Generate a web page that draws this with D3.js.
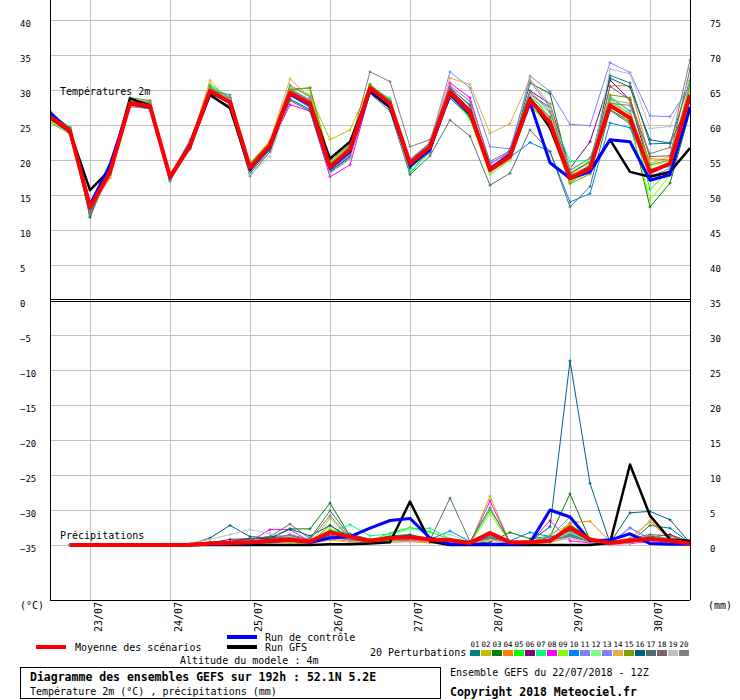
<!DOCTYPE html>
<html>
<head>
<meta charset="utf-8">
<script src="https://cdn.jsdelivr.net/npm/d3@7"></script>
<style>
body { margin: 0; background: #fff; }
svg { display: block; font-family: "DejaVu Sans Mono", monospace; }
</style>
</head>
<body>
<div id="chart"></div>
<script>
// echeances (heures depuis le 22/07 12Z)
const tempHours = d3.range(0, 193, 6);
const rainHours = d3.range(6, 193, 6);
const dayLabels = ["23/07", "24/07", "25/07", "26/07", "27/07", "28/07", "29/07", "30/07"];
const leftTicks = d3.range(-35, 41, 5);
const rightTicks = d3.range(0, 76, 5);

// temperatures 2m
const meanTemp = [26.2, 24.2, 13.2, 18.3, 28.1, 27.7, 17.6, 22.0, 29.9, 28.3, 18.9, 22.1, 29.6, 28.1, 19.0, 21.5, 30.3, 28.1, 19.5, 21.9, 29.7, 26.8, 18.6, 20.5, 28.6, 25.3, 17.4, 18.8, 27.8, 26.0, 18.3, 19.5, 29.3];
const controlTemp = [26.8, 24.0, 13.6, 19.3, 28.0, 27.6, 17.5, 22.2, 29.8, 28.2, 18.7, 21.9, 29.4, 27.9, 18.8, 21.2, 30.0, 27.8, 19.2, 21.6, 29.4, 26.6, 18.8, 20.7, 28.2, 19.6, 17.4, 18.3, 22.9, 22.6, 17.1, 17.9, 27.6];
const gfsTemp = [26.0, 24.0, 15.7, 18.6, 28.8, 27.8, 17.5, 21.9, 29.3, 27.4, 18.6, 22.0, 29.5, 28.0, 20.2, 22.6, 29.8, 27.5, 19.5, 21.5, 29.5, 27.0, 18.5, 20.8, 28.8, 24.6, 17.5, 18.5, 22.9, 18.3, 17.6, 18.3, 21.7];

const p01 = [26.5, 24.5, 12.5, 18.6, 28.3, 27.9, 17.3, 22.3, 30.1, 28.6, 18.6, 21.8, 30.1, 30.3, 18.5, 21.0, 30.8, 27.6, 18.8, 21.6, 30.2, 27.9, 18.2, 21.6, 29.4, 27.5, 16.8, 18.5, 32.1, 31.0, 22.3, 22.4, 31.4];
const p02 = [26.0, 23.8, 13.0, 18.0, 28.4, 28.0, 17.8, 22.2, 30.5, 28.5, 19.2, 22.4, 30.4, 29.2, 22.9, 24.3, 30.6, 28.4, 19.9, 22.3, 30.0, 27.0, 19.0, 21.0, 29.5, 26.0, 18.0, 19.6, 28.6, 28.1, 19.5, 20.5, 30.8];
const p03 = [26.8, 24.6, 11.8, 18.9, 28.6, 28.0, 17.2, 21.8, 30.3, 28.8, 18.5, 22.5, 30.1, 28.6, 19.3, 21.9, 30.0, 28.3, 19.2, 22.1, 29.4, 26.4, 18.3, 20.2, 31.0, 29.5, 18.1, 19.8, 27.2, 25.5, 13.3, 16.7, 26.9];
const p04 = [26.1, 24.0, 13.6, 17.5, 27.8, 27.5, 17.9, 22.3, 29.7, 28.0, 19.1, 22.0, 29.9, 27.6, 19.4, 21.8, 30.1, 27.9, 19.8, 21.4, 29.6, 26.5, 18.8, 20.7, 28.2, 24.9, 17.0, 18.6, 30.6, 30.6, 20.2, 20.0, 30.2];
const p05 = [25.7, 24.4, 12.9, 18.4, 28.3, 28.2, 17.5, 21.9, 30.8, 28.9, 19.0, 22.5, 29.8, 28.4, 19.6, 21.3, 30.7, 28.6, 18.3, 21.5, 29.1, 26.1, 18.9, 20.1, 27.8, 24.8, 17.6, 18.9, 28.6, 26.6, 15.8, 18.6, 29.8];
const p06 = [26.4, 24.1, 13.3, 18.2, 27.9, 27.6, 17.7, 22.0, 29.5, 28.1, 18.7, 22.2, 29.7, 28.2, 19.1, 21.4, 30.2, 28.0, 19.6, 22.0, 30.1, 27.3, 18.6, 20.6, 29.9, 28.0, 18.8, 22.6, 31.4, 28.6, 18.6, 19.2, 28.9];
const p07 = [26.2, 24.7, 12.7, 18.7, 28.5, 28.1, 17.4, 22.4, 30.5, 29.0, 19.4, 22.8, 29.3, 27.8, 18.7, 21.1, 30.5, 28.8, 18.1, 21.2, 29.2, 26.0, 18.2, 20.8, 28.9, 26.8, 19.8, 20.0, 29.1, 27.0, 18.8, 19.0, 30.6];
const p08 = [26.0, 23.9, 13.4, 17.8, 27.6, 27.4, 17.8, 21.7, 29.6, 28.2, 18.8, 21.9, 27.9, 27.0, 17.6, 19.3, 29.6, 27.6, 19.9, 22.2, 31.0, 28.9, 19.4, 21.2, 28.5, 25.4, 17.1, 18.9, 27.5, 26.1, 18.0, 19.4, 29.0];
const p09 = [25.6, 23.6, 13.1, 18.1, 28.2, 27.9, 17.1, 21.6, 30.0, 28.4, 19.6, 22.7, 30.3, 29.4, 19.8, 22.0, 29.9, 27.7, 19.1, 22.3, 29.0, 25.8, 17.9, 19.9, 28.0, 24.6, 16.9, 18.3, 28.9, 25.0, 14.3, 17.8, 29.5];
const p10 = [27.0, 24.3, 13.5, 19.4, 28.0, 27.8, 17.6, 22.1, 29.8, 28.3, 19.2, 21.6, 29.2, 27.5, 18.4, 20.6, 29.7, 27.4, 19.0, 21.7, 28.8, 26.3, 18.7, 20.4, 22.5, 21.2, 14.0, 15.2, 25.3, 24.6, 18.4, 19.3, 28.7];
const p11 = [26.6, 24.2, 13.8, 18.5, 28.1, 27.6, 17.4, 21.5, 29.9, 28.5, 19.1, 21.7, 29.4, 27.9, 18.6, 20.9, 29.8, 27.5, 19.4, 21.0, 29.9, 27.2, 19.6, 20.9, 32.0, 29.8, 25.1, 24.9, 33.9, 32.5, 26.3, 26.2, 30.6];
const p12 = [26.3, 24.5, 12.8, 18.8, 28.6, 28.4, 17.5, 22.3, 30.2, 28.7, 18.9, 22.4, 29.9, 28.4, 19.5, 21.6, 30.1, 27.8, 19.7, 21.9, 29.5, 26.6, 18.4, 20.3, 28.3, 26.3, 18.9, 19.9, 28.0, 26.9, 19.1, 19.9, 29.7];
const p13 = [26.9, 23.9, 14.0, 19.1, 27.9, 27.6, 17.8, 22.5, 30.4, 28.8, 18.6, 21.8, 29.9, 28.6, 18.3, 20.7, 29.9, 28.4, 20.1, 22.5, 32.6, 30.3, 21.9, 21.6, 31.3, 27.5, 17.7, 18.1, 28.9, 27.0, 17.6, 18.8, 28.5];
const p14 = [26.2, 24.0, 13.0, 17.4, 27.7, 27.3, 17.9, 22.3, 31.4, 28.3, 19.4, 22.8, 31.6, 28.9, 18.9, 21.9, 30.4, 28.2, 19.1, 22.6, 31.7, 30.8, 23.8, 25.2, 31.6, 27.9, 17.9, 19.1, 28.3, 26.5, 17.1, 18.5, 28.7];
const p15 = [25.4, 23.7, 13.1, 17.9, 28.9, 28.5, 17.2, 21.8, 30.6, 28.0, 19.5, 22.5, 30.0, 30.3, 19.9, 22.2, 30.8, 28.5, 19.3, 21.8, 29.6, 27.0, 18.9, 20.5, 28.7, 24.4, 16.6, 18.0, 29.3, 28.9, 19.3, 20.0, 30.7];
const p16 = [26.3, 24.1, 12.3, 18.2, 27.9, 27.3, 17.5, 21.9, 29.3, 27.5, 18.1, 21.5, 28.7, 27.2, 18.3, 20.5, 29.6, 27.4, 18.9, 21.2, 29.4, 26.2, 18.5, 21.0, 29.0, 25.5, 17.5, 19.3, 31.7, 30.4, 22.9, 22.4, 28.3];
const p17 = [26.7, 24.6, 12.0, 18.3, 28.3, 28.0, 17.0, 21.7, 29.2, 27.7, 17.7, 21.2, 28.5, 27.0, 18.1, 20.3, 29.5, 27.0, 17.9, 20.6, 25.7, 23.4, 16.4, 18.1, 24.3, 21.2, 13.3, 16.2, 27.1, 25.2, 17.9, 17.9, 27.2];
const p18 = [26.0, 24.3, 12.6, 18.6, 28.2, 28.1, 17.3, 22.2, 29.6, 28.1, 19.3, 22.3, 29.3, 27.7, 19.2, 21.2, 30.4, 28.3, 20.0, 22.4, 30.4, 27.7, 19.0, 20.6, 28.8, 26.1, 17.9, 18.5, 30.5, 28.6, 20.5, 20.6, 33.0];
const p19 = [25.9, 23.5, 13.7, 18.5, 28.0, 27.9, 18.0, 22.7, 29.8, 28.6, 17.9, 20.5, 29.1, 28.0, 18.1, 20.1, 30.2, 27.9, 19.7, 21.7, 29.3, 26.9, 18.2, 20.0, 29.3, 27.3, 17.3, 18.4, 33.0, 32.3, 24.5, 24.8, 31.8];
const p20 = [26.5, 24.0, 12.4, 18.0, 28.4, 28.4, 17.7, 22.9, 30.0, 29.3, 18.6, 22.6, 30.7, 29.0, 19.5, 22.1, 32.6, 31.2, 21.9, 22.9, 30.6, 28.4, 19.8, 21.3, 29.8, 26.9, 18.5, 20.3, 28.1, 27.8, 20.9, 21.8, 34.3];

// precipitations (mm / 6h)
const meanRain = [0, 0, 0, 0, 0, 0, 0.05, 0.2, 0.3, 0.4, 0.6, 0.8, 0.5, 1.8, 1.2, 0.6, 1.0, 1.1, 0.8, 0.7, 0.3, 1.7, 0.4, 0.4, 0.6, 2.5, 0.8, 0.3, 0.6, 0.9, 0.6, 0.2];
const controlRain = [0, 0, 0, 0, 0, 0, 0, 0.1, 0.2, 0.3, 0.5, 0.7, 0.4, 1.0, 1.2, 2.4, 3.5, 3.8, 1.0, 0.1, 0.1, 0.1, 0.1, 0.3, 5.0, 4.0, 0.6, 0.7, 1.6, 0.2, 0.1, 0.1];
const gfsRain = [0, 0, 0, 0, 0, 0, 0, 0, 0, 0, 0, 0, 0, 0.1, 0.1, 0.2, 0.4, 6.2, 0.5, 0, 0, 0, 0, 0, 0, 0, 0, 0.3, 11.5, 4.2, 0.8, 0.6];

const r01 = [0, 0, 0, 0, 0, 0, 0.1, 0.3, 0.5, 0.9, 1.2, 1.4, 0.6, 2.1, 1.6, 0.8, 1.3, 1.5, 0.9, 0.6, 0.4, 1.2, 0.3, 0.5, 1.1, 2.0, 0.6, 0.2, 0.4, 2.8, 2.4, 0.3];
const r02 = [0, 0, 0, 0, 0, 0, 0.1, 0.2, 0.3, 0.4, 0.6, 0.5, 0.3, 3.8, 1.0, 0.5, 0.9, 0.8, 0.6, 0.5, 0.2, 7.0, 0.3, 0.2, 0.4, 1.0, 0.4, 0.2, 0.3, 0.5, 0.4, 0.1];
const r03 = [0, 0, 0, 0, 0, 0, 0.2, 0.4, 0.5, 0.9, 0.9, 2.3, 2.3, 6.0, 1.3, 0.8, 1.0, 1.2, 0.6, 0.4, 0.3, 0.4, 1.8, 0.9, 1.2, 7.3, 0.7, 0.2, 0.5, 1.3, 0.9, 0.3];
const r04 = [0, 0, 0, 0, 0, 0, 0, 0.1, 0.1, 0.2, 0.3, 0.4, 0.2, 0.9, 0.5, 0.3, 0.4, 0.5, 0.3, 0.3, 0.1, 0.8, 0.2, 0.3, 0.5, 3.2, 3.4, 0.5, 1.0, 3.3, 0.8, 0.2];
const r05 = [0, 0, 0, 0, 0, 0, 0, 0.1, 0.2, 0.3, 0.5, 0.6, 0.4, 1.5, 1.1, 0.6, 1.7, 2.5, 1.9, 0.8, 0.3, 5.0, 0.4, 0.3, 0.6, 1.5, 0.5, 0.2, 0.4, 0.8, 0.5, 0.2];
const r06 = [0, 0, 0, 0, 0, 0, 0.1, 0.3, 0.8, 0.9, 1.0, 1.2, 0.7, 1.6, 1.2, 0.6, 0.9, 1.0, 0.7, 0.5, 0.3, 1.0, 0.4, 0.4, 0.8, 1.2, 0.5, 0.2, 0.6, 1.1, 1.5, 0.4];
const r07 = [0, 0, 0, 0, 0, 0, 0, 0.1, 0.3, 0.5, 0.8, 1.0, 0.8, 1.8, 2.9, 1.3, 1.6, 2.3, 2.4, 0.9, 0.3, 1.4, 0.3, 0.4, 0.9, 1.6, 0.8, 0.3, 0.5, 1.4, 0.8, 0.2];
const r08 = [0, 0, 0, 0, 0, 0, 0.1, 0.2, 0.3, 0.5, 2.2, 2.2, 0.5, 1.4, 0.9, 0.5, 0.8, 0.6, 0.5, 0.3, 0.2, 6.3, 0.3, 0.3, 3.5, 0.6, 0.3, 0.1, 0.2, 0.5, 0.3, 0.1];
const r09 = [0, 0, 0, 0, 0, 0, 0, 0.1, 0.2, 0.4, 0.5, 0.6, 0.4, 2.4, 0.9, 0.5, 1.2, 1.0, 0.8, 0.6, 0.2, 4.5, 0.3, 0.4, 1.5, 3.0, 1.0, 0.3, 0.5, 1.0, 0.5, 0.1];
const r10 = [0, 0, 0, 0, 0, 0, 0.1, 0.2, 0.4, 0.6, 0.8, 1.0, 0.5, 1.3, 0.8, 0.6, 1.0, 1.2, 0.8, 2.0, 0.5, 1.1, 0.6, 1.8, 1.2, 1.6, 0.4, 0.2, 0.4, 0.6, 0.3, 0.1];
const r11 = [0, 0, 0, 0, 0, 0, 0, 0.1, 0.2, 0.4, 0.6, 0.7, 0.5, 1.2, 0.8, 0.4, 0.7, 0.9, 0.6, 0.4, 0.2, 1.0, 0.3, 0.3, 1.2, 4.0, 0.8, 0.2, 2.4, 0.9, 0.5, 0.1];
const r12 = [0, 0, 0, 0, 0, 0, 0, 0.1, 0.3, 0.5, 0.7, 0.9, 0.6, 1.6, 1.3, 0.8, 1.4, 2.3, 1.7, 1.5, 0.4, 1.6, 0.5, 0.4, 0.7, 1.8, 0.6, 0.3, 0.6, 1.0, 0.6, 0.2];
const r13 = [0, 0, 0, 0, 0, 0, 0.1, 0.2, 0.3, 0.4, 0.5, 0.6, 0.4, 1.1, 0.7, 0.4, 0.6, 0.7, 0.5, 0.4, 0.2, 0.9, 0.3, 0.3, 0.7, 1.1, 0.4, 0.2, 2.5, 0.8, 0.4, 0.1];
const r14 = [0, 0, 0, 0, 0, 0, 0, 0.1, 0.1, 0.2, 0.3, 0.3, 0.2, 0.7, 0.4, 0.3, 0.4, 0.5, 0.4, 0.3, 0.1, 0.7, 0.2, 0.2, 0.4, 1.0, 0.4, 0.2, 0.6, 3.5, 1.0, 0.2];
const r15 = [0, 0, 0, 0, 0, 0, 0, 0.1, 0.2, 0.3, 0.4, 0.5, 0.3, 2.8, 0.9, 0.4, 0.7, 0.8, 0.6, 0.5, 0.2, 1.5, 0.3, 0.3, 0.6, 3.0, 0.6, 0.2, 0.4, 0.7, 0.4, 0.1];
const r16 = [0, 0, 0, 0, 0, 0, 0.1, 1.0, 2.8, 1.2, 1.0, 2.3, 1.3, 2.8, 1.1, 0.7, 1.2, 1.4, 0.7, 0.6, 0.3, 1.0, 0.4, 0.5, 2.6, 26.3, 8.8, 0.3, 4.6, 4.8, 3.6, 0.3];
const r17 = [0, 0, 0, 0, 0, 0, 0, 0.2, 0.4, 0.8, 1.2, 3.0, 0.9, 4.9, 1.2, 0.6, 1.0, 1.1, 0.7, 6.7, 0.5, 5.3, 0.4, 0.4, 0.8, 2.0, 0.6, 0.3, 0.5, 0.9, 0.6, 0.2];
const r18 = [0, 0, 0, 0, 0, 0, 0, 0.1, 0.3, 0.4, 0.7, 0.8, 0.5, 1.2, 0.8, 0.4, 0.8, 0.9, 0.6, 0.5, 0.2, 0.9, 0.3, 0.3, 0.6, 1.4, 0.5, 0.3, 0.9, 1.5, 1.3, 0.4];
const r19 = [0, 0, 0, 0, 0, 0, 0.3, 0.8, 1.5, 2.2, 1.6, 1.2, 0.6, 1.9, 1.0, 0.5, 0.8, 0.9, 0.5, 0.4, 0.2, 0.8, 0.3, 0.2, 0.6, 1.0, 0.4, 0.1, 0.3, 0.6, 0.4, 0.1];
const r20 = [0, 0, 0, 0, 0, 0, 0, 0.1, 0.3, 0.5, 0.8, 1.5, 0.8, 4.2, 1.0, 0.5, 0.9, 1.0, 0.6, 0.5, 0.2, 1.1, 0.3, 0.3, 0.7, 1.3, 0.5, 0.2, 0.4, 0.8, 0.5, 0.2];

const pertNames = ["01", "02", "03", "04", "05", "06", "07", "08", "09", "10", "11", "12", "13", "14", "15", "16", "17", "18", "19", "20"];
const pertColors = ["#008080", "#c0c000", "#008000", "#ff8000", "#00ff00", "#800080", "#00ff80", "#ff00ff", "#80ff00", "#0080ff",
	"#8080ff", "#80ff80", "#8080ff", "#e0b040", "#80a000", "#006080", "#507070", "#806070", "#c0c0c0", "#808080"];
const pertTemp = [p01, p02, p03, p04, p05, p06, p07, p08, p09, p10, p11, p12, p13, p14, p15, p16, p17, p18, p19, p20];
const pertRain = [r01, r02, r03, r04, r05, r06, r07, r08, r09, r10, r11, r12, r13, r14, r15, r16, r17, r18, r19, r20];

const width = 740;
const height = 700;
const left = 50;
const right = 690;

const svg = d3
	.select("#chart")
	.append("svg")
	.attr("width", width)
	.attr("height", height);

svg.append("rect").attr("width", width).attr("height", height).attr("fill", "#fff");

const x = d3.scaleLinear().domain([0, 192]).range([left, right]);
const yTemp = d3.scaleLinear().domain([-35, 40]).range([545, 20]);
const yRain = d3.scaleLinear().domain([0, 75]).range([545, 20]);

// grille horizontale
svg.append("g")
	.attr("transform", `translate(${left},0)`)
	.call(d3.axisLeft(yTemp).tickValues(leftTicks.filter((d) => d !== 0)).tickSize(-(right - left)).tickFormat(""))
	.call((g) => g.select(".domain").remove())
	.selectAll("line")
	.attr("stroke", "#c0c0c0");

// grille verticale (jours)
const dayHours = dayLabels.map((d, i) => 12 + 24 * i);
svg.append("g")
	.attr("transform", "translate(0,600)")
	.call(d3.axisBottom(x).tickValues(dayHours).tickSize(-606).tickFormat(""))
	.call((g) => g.select(".domain").remove())
	.selectAll("line")
	.attr("stroke", "#c0c0c0");

// etiquettes des jours
svg.append("g")
	.attr("transform", "translate(0,600)")
	.call(d3.axisBottom(x).tickValues(dayHours).tickSize(0).tickFormat((d, i) => dayLabels[i]))
	.call((g) => g.select(".domain").remove())
	.selectAll("text")
	.attr("transform", "rotate(-90)")
	.attr("text-anchor", "end")
	.attr("x", -2)
	.attr("y", 11)
	.attr("dy", null)
	.style("font-size", "10px")
	.style("font-family", "DejaVu Sans Mono")
	.attr("fill", "#000");

// axe gauche (°C)
svg.append("g")
	.attr("transform", `translate(${left},0)`)
	.call(d3.axisLeft(yTemp).tickValues(leftTicks).tickSize(0))
	.call((g) => g.select(".domain").remove())
	.selectAll("text")
	.attr("text-anchor", "start")
	.attr("x", -30)
	.attr("dy", "0.7em")
	.style("font-size", "9px")
	.style("font-family", "DejaVu Sans Mono")
	.attr("fill", "#000");

// axe droit (mm)
svg.append("g")
	.attr("transform", `translate(${right},0)`)
	.call(d3.axisRight(yRain).tickValues(rightTicks).tickSize(0).tickPadding(20))
	.call((g) => g.select(".domain").remove())
	.selectAll("text")
	.attr("dy", "0.7em")
	.style("font-size", "9px")
	.style("font-family", "DejaVu Sans Mono")
	.attr("fill", "#000");

svg.append("text").attr("x", 20).attr("y", 609).style("font-size", "10px").text("(°C)");
svg.append("text").attr("x", 708).attr("y", 609).style("font-size", "10px").text("(mm)");

// clips des deux panneaux
const defs = svg.append("defs");
defs.append("clipPath").attr("id", "clipTemp")
	.append("rect").attr("x", left).attr("y", -10).attr("width", right - left).attr("height", 309);
defs.append("clipPath").attr("id", "clipRain")
	.append("rect").attr("x", left).attr("y", 302).attr("width", right - left).attr("height", 298);

const tempLine = d3.line()
	.x((d, i) => x(tempHours[i]))
	.y((d) => yTemp(d));
const rainLine = d3.line()
	.x((d, i) => x(rainHours[i]))
	.y((d) => yRain(d));

const cross = "M-1.5,0H1.5M0,-1.5V1.5";

const tempLayer = svg.append("g").attr("clip-path", "url(#clipTemp)");
const rainLayer = svg.append("g").attr("clip-path", "url(#clipRain)");

function drawPerts(layer, series, line, hours, yScale) {
	series.forEach((s, k) => {
		layer.append("path")
			.datum(s)
			.attr("fill", "none")
			.attr("stroke", pertColors[k])
			.attr("stroke-width", 1)
			.attr("d", line);
		layer.selectAll(null)
			.data(s)
			.enter()
			.append("path")
			.attr("transform", (d, i) => `translate(${x(hours[i])},${yScale(d)})`)
			.attr("d", cross)
			.attr("stroke", pertColors[k])
			.attr("stroke-width", 1);
	});
}

drawPerts(tempLayer, pertTemp, tempLine, tempHours, yTemp);
drawPerts(rainLayer, pertRain, rainLine, rainHours, yRain);

// runs principaux
const mainRuns = [
	{ temp: gfsTemp, rain: gfsRain, color: "#000000", w: 2.5 },
	{ temp: controlTemp, rain: controlRain, color: "#0000ff", w: 3 },
	{ temp: meanTemp, rain: meanRain, color: "#ff0000", w: 4 }
];

mainRuns.forEach((r) => {
	tempLayer.append("path")
		.datum(r.temp)
		.attr("fill", "none")
		.attr("stroke", r.color)
		.attr("stroke-width", r.w)
		.attr("stroke-linejoin", "round")
		.attr("d", tempLine);
	rainLayer.append("path")
		.datum(r.rain)
		.attr("fill", "none")
		.attr("stroke", r.color)
		.attr("stroke-width", r.w)
		.attr("stroke-linejoin", "round")
		.attr("d", rainLine);
});

// cadre
const frame = svg.append("g").attr("stroke", "#000").attr("stroke-width", 1).attr("shape-rendering", "crispEdges");
frame.append("line").attr("x1", left).attr("x2", left).attr("y1", 0).attr("y2", 600);
frame.append("line").attr("x1", right).attr("x2", right).attr("y1", 0).attr("y2", 600);
frame.append("line").attr("x1", left).attr("x2", right).attr("y1", 299.5).attr("y2", 299.5);
frame.append("line").attr("x1", left).attr("x2", right).attr("y1", 301.5).attr("y2", 301.5);
frame.append("line").attr("x1", left).attr("x2", right).attr("y1", 600.5).attr("y2", 600.5);

svg.append("text").attr("x", 60).attr("y", 95).style("font-size", "10px").text("Températures 2m");
svg.append("text").attr("x", 60).attr("y", 539).style("font-size", "10px").text("Précipitations");

// legende
const legend = svg.append("g").style("font-size", "10px");
legend.append("line").attr("x1", 36).attr("x2", 66).attr("y1", 647).attr("y2", 647)
	.attr("stroke", "#ff0000").attr("stroke-width", 4);
legend.append("text").attr("x", 75).attr("y", 651).text("Moyenne des scénarios");
legend.append("line").attr("x1", 227).attr("x2", 257).attr("y1", 637).attr("y2", 637)
	.attr("stroke", "#0000ff").attr("stroke-width", 4);
legend.append("text").attr("x", 265).attr("y", 641).text("Run de contrôle");
legend.append("line").attr("x1", 227).attr("x2", 257).attr("y1", 647).attr("y2", 647)
	.attr("stroke", "#000").attr("stroke-width", 4);
legend.append("text").attr("x", 265).attr("y", 651).text("Run GFS");
legend.append("text").attr("x", 180).attr("y", 664).text("Altitude du modele : 4m");
legend.append("text").attr("x", 370).attr("y", 656).text("20 Perturbations");

const swatch = legend.selectAll(".sw")
	.data(pertNames)
	.enter()
	.append("g")
	.attr("class", "sw")
	.attr("transform", (d, i) => `translate(${470 + i * 11},0)`);
swatch.append("rect")
	.attr("y", 650)
	.attr("width", 10)
	.attr("height", 6)
	.attr("fill", (d, i) => pertColors[i]);
swatch.append("text")
	.attr("x", 5)
	.attr("y", 646.5)
	.attr("text-anchor", "middle")
	.style("font-size", "7.5px")
	.text((d) => d);

// cartouche
svg.append("rect")
	.attr("x", 20.5).attr("y", 667.5).attr("width", 420).attr("height", 31)
	.attr("fill", "none").attr("stroke", "#000");
svg.append("text").attr("x", 30).attr("y", 680.5)
	.style("font-size", "11.5px").style("font-weight", "bold")
	.text("Diagramme des ensembles GEFS sur 192h : 52.1N 5.2E");
svg.append("text").attr("x", 30).attr("y", 695).style("font-size", "10px")
	.text("Température 2m (°C) , précipitations (mm)");
svg.append("text").attr("x", 450).attr("y", 676).style("font-size", "10px")
	.text("Ensemble GEFS du 22/07/2018 - 12Z");
svg.append("text").attr("x", 450).attr("y", 695.5)
	.style("font-size", "11.5px").style("font-weight", "bold")
	.text("Copyright 2018 Meteociel.fr");
</script>
</body>
</html>
